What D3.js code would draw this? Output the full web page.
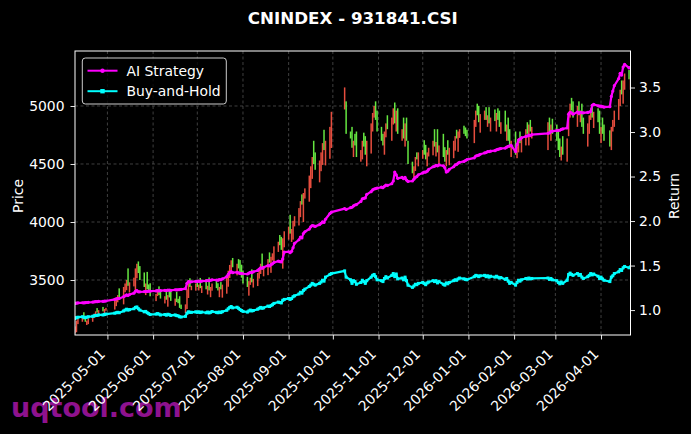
<!DOCTYPE html>
<html>
<head>
<meta charset="utf-8">
<script src="https://cdn.jsdelivr.net/npm/d3@7.9.0/dist/d3.min.js"></script>
<style>
  html, body { margin: 0; padding: 0; background: #000; }
  svg { display: block; font-family: 'DejaVu Sans', sans-serif; }
</style>
</head>
<body>
<svg id="chart" width="691" height="434"></svg>
<script>
// trading calendar (weekdays minus SSE holidays)
const startDate = '2025-04-09';
const endDate = '2026-04-21';
const holidays = [
    '2025-05-01', '2025-05-02', '2025-05-05', '2025-06-02',
    '2025-10-01', '2025-10-02', '2025-10-03', '2025-10-06', '2025-10-07', '2025-10-08',
    '2026-01-01', '2026-01-02',
    '2026-02-16', '2026-02-17', '2026-02-18', '2026-02-19', '2026-02-20', '2026-02-23',
    '2026-04-06'
];

// daily closes, one per trading day (month by month)
const closes = [
    3100, 3150, 3170, 3180, 3160, 3140, 3150, 3170, 3190, 3210, 3230, 3220, 3240, 3230, 3250, 3260,
    3320, 3350, 3370, 3340, 3440, 3470, 3500, 3450, 3480, 3520, 3600, 3640, 3560, 3500, 3440, 3470, 3420, 3400, 3360,
    3380, 3400, 3370, 3340, 3360, 3330, 3370, 3350, 3320, 3340, 3310, 3300, 3260, 3250, 3290, 3420, 3470, 3440, 3450, 3470,
    3440, 3460, 3430, 3450, 3420, 3450, 3410, 3440, 3470, 3430, 3410, 3440, 3420, 3460, 3520, 3580, 3630, 3670, 3610, 3640, 3600, 3560, 3520,
    3470, 3440, 3490, 3520, 3480, 3510, 3560, 3600, 3640, 3590, 3620, 3680, 3650, 3700, 3730, 3790, 3830, 3800, 3760, 3860, 3920,
    3960, 3900, 3940, 4010, 4050, 4120, 4180, 4150, 4250, 4290, 4400, 4480, 4560, 4500, 4450, 4530, 4600, 4680, 4620, 4700, 4820, 4950,
    5160, 4760, 4720, 4640, 4700, 4660, 4560, 4620, 4700, 4650, 4580, 4700, 4850, 4940, 5000, 4880, 4780,
    4700, 4660, 4780, 4850, 4800, 4900, 4980, 4850, 4960, 4760, 4800, 4720, 4850, 4700, 4500, 4420, 4480, 4560, 4540, 4600,
    4620, 4580, 4540, 4600, 4640, 4700, 4650, 4690, 4600, 4660, 4560, 4520, 4620, 4580, 4640, 4700, 4740, 4720, 4780, 4800, 4760, 4740, 4720,
    4880, 4960, 4920, 4860, 4930, 4960, 4880, 4920, 4850, 4900, 4870, 4940, 4880, 4820, 4860, 4780, 4840, 4700, 4640, 4700,
    4580, 4650, 4720, 4680, 4740, 4800, 4760, 4840, 4780, 4820, 4860, 4780, 4840, 4760,
    4700, 4620, 4560, 4650, 4580, 4720, 4950, 5020, 4960, 4900, 5000, 4920, 4960, 4820, 4760, 4850, 4920, 4980, 4900, 4950, 4860, 4760,
    4820, 4760, 4700, 4650, 4820, 4880, 4960, 5060, 5140, 5100, 5220, 5280, 5230, 5250
];

const opens = [
    3040, 3050, 3120, 3140, 3222, 3190, 3112, 3120, 3140, 3172, 3180, 3258, 3190, 3268, 3200, 3235,
    3245, 3275, 3308, 3428, 3290, 3395, 3412, 3600, 3392, 3445, 3400, 3515, 3660, 3620, 3565, 3370, 3570, 3462, 3472,
    3318, 3362, 3445, 3415, 3298, 3418, 3270, 3412, 3408, 3278, 3398, 3338, 3360, 3288, 3215, 3250, 3345, 3515, 3412, 3408,
    3500, 3410, 3518, 3388, 3508, 3375, 3522, 3352, 3408, 3500, 3472, 3352, 3482, 3348, 3382, 3442, 3518, 3558, 3690, 3540, 3680, 3672, 3632,
    3582, 3528, 3365, 3458, 3592, 3435, 3448, 3512, 3552, 3728, 3532, 3542, 3738, 3562, 3668, 3652, 3742, 3888, 3872, 3598, 3782,
    3848, 4062, 3828, 3848, 3962, 3970, 4042, 4238, 4000, 4202, 4175, 4292, 4372, 4700, 4600, 4342, 4438, 4492, 4795, 4488, 4545, 4638,
    4970, 5040, 4780, 4820, 4560, 4760, 4780, 4520, 4540, 4770, 4740, 4480, 4590, 4780, 4900, 5040, 4960,
    4820, 4760, 4580, 4730, 4920, 4700, 4840, 5030, 4780, 4980, 4700, 4900, 4650, 4900, 4700, 4520, 4380, 4440, 4600, 4480,
    4545, 4705, 4665, 4480, 4565, 4575, 4800, 4565, 4800, 4485, 4760, 4645, 4480, 4705, 4490, 4550, 4615, 4795, 4605, 4725, 4830, 4815, 4795,
    4680, 4820, 5020, 5000, 4770, 4880, 4990, 4820, 4990, 4780, 4970, 4780, 4980, 4960, 4760, 4960, 4700, 4900, 4800, 4560,
    4780, 4550, 4600, 4780, 4600, 4660, 4860, 4660, 4880, 4720, 4620, 4900, 4700, 4890,
    4840, 4800, 4720, 4530, 4740, 4520, 4740, 4900, 5070, 5040, 4820, 5040, 4860, 5020, 4900, 4650, 4760, 4880, 5000, 4810, 4980, 4960,
    4680, 4900, 4840, 4790, 4620, 4780, 4820, 4880, 5000, 5220, 5020, 5140, 5310, 5140
];

// cumulative return of the AI strategy
const strategy = [
    1.075, 1.078, 1.08, 1.082, 1.08, 1.083, 1.085, 1.087, 1.09, 1.092, 1.095, 1.094, 1.097, 1.098, 1.10, 1.102,
    1.12, 1.125, 1.13, 1.13, 1.15, 1.16, 1.17, 1.165, 1.175, 1.19, 1.21, 1.22, 1.205, 1.205, 1.208, 1.21, 1.21, 1.212, 1.212,
    1.215, 1.218, 1.215, 1.218, 1.222, 1.22, 1.225, 1.225, 1.222, 1.228, 1.226, 1.228, 1.23, 1.232, 1.24, 1.30, 1.32, 1.315, 1.318, 1.322,
    1.322, 1.325, 1.322, 1.326, 1.328, 1.332, 1.33, 1.335, 1.34, 1.338, 1.336, 1.342, 1.34, 1.35, 1.375, 1.40, 1.42, 1.432, 1.42, 1.425, 1.418, 1.412, 1.41,
    1.408, 1.405, 1.415, 1.425, 1.42, 1.43, 1.445, 1.46, 1.475, 1.47, 1.48, 1.50, 1.495, 1.51, 1.52, 1.535, 1.55, 1.545, 1.54, 1.575, 1.65,
    1.655, 1.645, 1.66, 1.70, 1.75, 1.79, 1.82, 1.81, 1.86, 1.88, 1.91, 1.935, 1.95, 1.945, 1.94, 1.96, 1.975, 1.99, 1.985, 2.02, 2.085, 2.10,
    2.14, 2.13, 2.15, 2.155, 2.17, 2.18, 2.185, 2.22, 2.25, 2.255, 2.26, 2.30, 2.33, 2.35, 2.36, 2.365, 2.37,
    2.38, 2.375, 2.39, 2.405, 2.40, 2.42, 2.45, 2.55, 2.52, 2.48, 2.49, 2.475, 2.49, 2.46, 2.445, 2.45, 2.47, 2.49, 2.50, 2.52,
    2.54, 2.55, 2.55, 2.56, 2.58, 2.61, 2.615, 2.625, 2.62, 2.63, 2.62, 2.60, 2.55, 2.56, 2.58, 2.61, 2.63, 2.635, 2.65, 2.66, 2.67, 2.68, 2.69,
    2.71, 2.73, 2.735, 2.74, 2.75, 2.765, 2.77, 2.78, 2.78, 2.785, 2.79, 2.80, 2.805, 2.81, 2.815, 2.82, 2.83, 2.84, 2.845, 2.85,
    2.78, 2.86, 2.91, 2.92, 2.935, 2.95, 2.955, 2.965, 2.96, 2.97, 2.985, 2.99, 3.005, 3.01,
    3.015, 3.02, 3.02, 3.03, 3.035, 3.045, 3.20, 3.22, 3.215, 3.20, 3.225, 3.21, 3.22, 3.215, 3.215, 3.22, 3.225, 3.23, 3.30, 3.31, 3.295, 3.29,
    3.29, 3.285, 3.28, 3.285, 3.40, 3.46, 3.52, 3.60, 3.66, 3.64, 3.73, 3.76, 3.72, 3.725
];

// cumulative return of buy-and-hold
const buyHold = [
    0.905, 0.915, 0.92, 0.925, 0.92, 0.915, 0.92, 0.925, 0.93, 0.935, 0.94, 0.94, 0.945, 0.945, 0.95, 0.955,
    0.965, 0.97, 0.975, 0.97, 0.99, 1.0, 1.01, 1.0, 1.005, 1.015, 1.03, 1.035, 1.015, 1.0, 0.98, 0.985, 0.97, 0.96, 0.95,
    0.955, 0.96, 0.955, 0.945, 0.95, 0.943, 0.953, 0.948, 0.94, 0.945, 0.938, 0.935, 0.925, 0.922, 0.93, 0.965, 0.98, 0.975, 0.975, 0.98,
    0.975, 0.98, 0.972, 0.978, 0.97, 0.978, 0.968, 0.975, 0.983, 0.975, 0.97, 0.978, 0.972, 0.982, 0.998, 1.015, 1.03, 1.04, 1.025, 1.032, 1.02, 1.005, 0.995,
    0.985, 0.978, 0.99, 1.0, 0.99, 0.995, 1.01, 1.02, 1.03, 1.02, 1.025, 1.045, 1.04, 1.05, 1.06, 1.075, 1.09, 1.085, 1.08, 1.11, 1.12,
    1.13, 1.12, 1.13, 1.15, 1.16, 1.18, 1.20, 1.19, 1.22, 1.235, 1.265, 1.28, 1.30, 1.29, 1.28, 1.30, 1.315, 1.335, 1.325, 1.37, 1.40, 1.41,
    1.44, 1.37, 1.34, 1.30, 1.33, 1.32, 1.29, 1.31, 1.335, 1.32, 1.30, 1.33, 1.37, 1.39, 1.40, 1.375, 1.34,
    1.33, 1.32, 1.355, 1.375, 1.36, 1.39, 1.41, 1.375, 1.405, 1.35, 1.36, 1.34, 1.37, 1.33, 1.28, 1.255, 1.27, 1.29, 1.285, 1.30,
    1.31, 1.30, 1.285, 1.305, 1.315, 1.33, 1.32, 1.33, 1.305, 1.32, 1.29, 1.28, 1.305, 1.295, 1.31, 1.33, 1.34, 1.335, 1.35, 1.36, 1.35, 1.345, 1.34,
    1.375, 1.39, 1.385, 1.375, 1.385, 1.39, 1.375, 1.385, 1.37, 1.38, 1.37, 1.38, 1.37, 1.36, 1.365, 1.345, 1.355, 1.325, 1.30, 1.31,
    1.28, 1.31, 1.335, 1.325, 1.34, 1.355, 1.35, 1.36, 1.35, 1.355, 1.36, 1.345, 1.355, 1.34,
    1.33, 1.31, 1.295, 1.315, 1.30, 1.335, 1.40, 1.415, 1.40, 1.39, 1.41, 1.39, 1.40, 1.37, 1.355, 1.375, 1.39, 1.41, 1.395, 1.405, 1.38, 1.355,
    1.37, 1.35, 1.335, 1.32, 1.37, 1.385, 1.41, 1.43, 1.455, 1.445, 1.475, 1.49, 1.475, 1.485
];

const priceTicks = [3500, 4000, 4500, 5000];
const returnTicks = [1.0, 1.5, 2.0, 2.5, 3.0, 3.5];
const monthTicks = [
    '2025-05-01', '2025-06-01', '2025-07-01', '2025-08-01', '2025-09-01', '2025-10-01',
    '2025-11-01', '2025-12-01', '2026-01-01', '2026-02-01', '2026-03-01', '2026-04-01'
];

const parseDay = d3.utcParse('%Y-%m-%d');
const fmtDay = d3.utcFormat('%Y-%m-%d');
const holidaySet = new Set(holidays);
const tradingDays = d3.utcDays(parseDay(startDate), d3.utcDay.offset(parseDay(endDate), 1))
    .filter((d) => d.getUTCDay() !== 0 && d.getUTCDay() !== 6 && !holidaySet.has(fmtDay(d)));

const n = Math.min(tradingDays.length, closes.length, opens.length, strategy.length, buyHold.length);
const rows = d3.range(n).map((i) => ({
    date: tradingDays[i],
    open: opens[i],
    close: closes[i],
    strat: strategy[i],
    bh: buyHold[i]
}));

const W = 691, H = 434;
const plot = { left: 75, right: 630.5, top: 51, bottom: 335 };
const svg = d3.select('#chart');

svg.append('rect').attr('width', W).attr('height', H).attr('fill', '#000');

const x = d3.scaleUtc()
    .domain([parseDay(startDate), parseDay(endDate)])
    .range([plot.left, plot.right]);
const yPrice = d3.scaleLinear().domain([3026, 5474]).range([plot.bottom, plot.top]);
const yRet = d3.scaleLinear().domain([0.72, 3.91]).range([plot.bottom, plot.top]);

svg.append('defs').append('clipPath').attr('id', 'clip')
    .append('rect')
    .attr('x', plot.left).attr('y', plot.top)
    .attr('width', plot.right - plot.left).attr('height', plot.bottom - plot.top);

// grid
const grid = svg.append('g')
    .attr('stroke', '#5a5a5a')
    .attr('stroke-width', 0.7)
    .attr('stroke-dasharray', '3,2.5');
monthTicks.forEach((m) => {
    const gx = x(parseDay(m));
    grid.append('line').attr('x1', gx).attr('x2', gx).attr('y1', plot.top).attr('y2', plot.bottom);
});
priceTicks.forEach((p) => {
    grid.append('line').attr('x1', plot.left).attr('x2', plot.right).attr('y1', yPrice(p)).attr('y2', yPrice(p));
});

// watermark
svg.append('text')
    .attr('x', 11)
    .attr('y', 417)
    .attr('fill', '#8e128e')
    .attr('font-size', 27)
    .attr('font-weight', 'bold')
    .text('uqtool.com');

// candles
const candleLayer = svg.append('g').attr('clip-path', 'url(#clip)');
rows.forEach((d) => {
    const top = yPrice(Math.max(d.open, d.close));
    const bot = yPrice(Math.min(d.open, d.close));
    candleLayer.append('rect')
        .attr('x', x(d.date) - 0.75)
        .attr('y', top)
        .attr('width', 1.5)
        .attr('height', Math.max(1, bot - top))
        .attr('fill', d.close >= d.open ? '#ff5545' : '#70ff48')
        .attr('opacity', 0.9);
});

// return lines
const lineLayer = svg.append('g').attr('clip-path', 'url(#clip)');
const stratLine = d3.line().x((d) => x(d.date)).y((d) => yRet(d.strat));
const bhLine = d3.line().x((d) => x(d.date)).y((d) => yRet(d.bh));

lineLayer.append('path')
    .attr('d', bhLine(rows))
    .attr('fill', 'none')
    .attr('stroke', '#00ffff')
    .attr('stroke-width', 2.2)
    .attr('stroke-linejoin', 'round');
lineLayer.selectAll('.bh-mark')
    .data(rows)
    .join('rect')
    .attr('x', (d) => x(d.date) - 1.5)
    .attr('y', (d) => yRet(d.bh) - 1.5)
    .attr('width', 3)
    .attr('height', 3)
    .attr('fill', '#00ffff');

lineLayer.append('path')
    .attr('d', stratLine(rows))
    .attr('fill', 'none')
    .attr('stroke', '#ff00ff')
    .attr('stroke-width', 2.2)
    .attr('stroke-linejoin', 'round');
lineLayer.selectAll('.st-mark')
    .data(rows)
    .join('circle')
    .attr('cx', (d) => x(d.date))
    .attr('cy', (d) => yRet(d.strat))
    .attr('r', 1.6)
    .attr('fill', '#ff00ff');

// frame
svg.append('rect')
    .attr('x', plot.left).attr('y', plot.top)
    .attr('width', plot.right - plot.left).attr('height', plot.bottom - plot.top)
    .attr('fill', 'none')
    .attr('stroke', '#fff')
    .attr('stroke-width', 1);

// axes
function styleAxis(g) {
    g.select('.domain').remove();
    g.selectAll('.tick line').attr('stroke', '#fff').attr('stroke-width', 0.9);
    g.selectAll('.tick text')
        .attr('fill', '#fff')
        .attr('font-size', 13.9)
        .attr('font-family', "'DejaVu Sans', sans-serif");
}

svg.append('g')
    .attr('transform', `translate(0,${plot.bottom})`)
    .call(d3.axisBottom(x).tickValues(monthTicks.map(parseDay)).tickFormat(fmtDay).tickSize(4.5))
    .call(styleAxis)
    .call((g) => g.selectAll('.tick text')
        .attr('y', null)
        .attr('dy', null)
        .attr('text-anchor', 'end')
        .attr('transform', 'translate(-2,20) rotate(-45)'));

svg.append('g')
    .attr('transform', `translate(${plot.left},0)`)
    .call(d3.axisLeft(yPrice).tickValues(priceTicks).tickFormat(d3.format('d')).tickSize(4.5).tickPadding(6))
    .call(styleAxis);

svg.append('g')
    .attr('transform', `translate(${plot.right},0)`)
    .call(d3.axisRight(yRet).tickValues(returnTicks).tickFormat(d3.format('.1f')).tickSize(4.5).tickPadding(4))
    .call(styleAxis);

// titles
svg.append('text')
    .attr('x', (plot.left + plot.right) / 2)
    .attr('y', 24)
    .attr('text-anchor', 'middle')
    .attr('fill', '#fff')
    .attr('font-size', 16.7)
    .attr('font-weight', 'bold')
    .text('CNINDEX - 931841.CSI');

svg.append('text')
    .attr('transform', 'translate(22.5,196) rotate(-90)')
    .attr('text-anchor', 'middle')
    .attr('fill', '#fff')
    .attr('font-size', 13.9)
    .text('Price');

svg.append('text')
    .attr('transform', 'translate(679,196) rotate(-90)')
    .attr('text-anchor', 'middle')
    .attr('fill', '#fff')
    .attr('font-size', 13.9)
    .text('Return');

// legend
const legend = svg.append('g');
legend.append('rect')
    .attr('x', 82.3).attr('y', 58)
    .attr('width', 144).attr('height', 46)
    .attr('rx', 3)
    .attr('fill', '#000')
    .attr('fill-opacity', 0.8)
    .attr('stroke', '#cccccc')
    .attr('stroke-width', 1);

const legendItems = [
    { label: 'AI Strategy', color: '#ff00ff', marker: 'circle', y: 70.7 },
    { label: 'Buy-and-Hold', color: '#00ffff', marker: 'square', y: 91.2 }
];
legendItems.forEach((item) => {
    legend.append('line')
        .attr('x1', 87.5).attr('x2', 117.5)
        .attr('y1', item.y).attr('y2', item.y)
        .attr('stroke', item.color)
        .attr('stroke-width', 2);
    if (item.marker === 'circle') {
        legend.append('circle').attr('cx', 102.5).attr('cy', item.y).attr('r', 2.2).attr('fill', item.color);
    } else {
        legend.append('rect').attr('x', 100.3).attr('y', item.y - 2.2).attr('width', 4.4).attr('height', 4.4).attr('fill', item.color);
    }
    legend.append('text')
        .attr('x', 126.5)
        .attr('y', item.y + 5)
        .attr('fill', '#fff')
        .attr('font-size', 13.9)
        .text(item.label);
});
</script>
</body>
</html>
